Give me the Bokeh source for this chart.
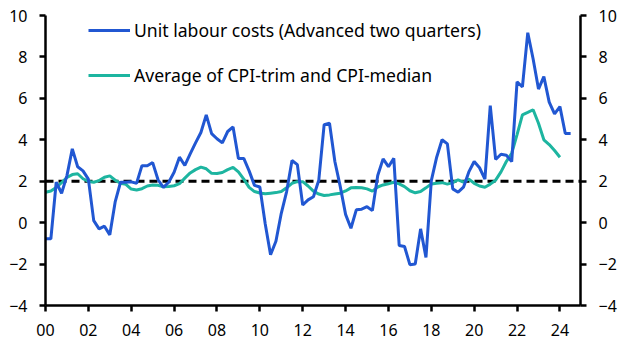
import numpy as np
from bokeh.plotting import figure
from bokeh.models import (LinearAxis, FixedTicker, Span, Legend, LegendItem,
                          ColumnDataSource, Range1d)
from bokeh.embed import file_html
from bokeh.resources import INLINE

# Unit labour costs, y/y %, advanced two quarters (quarterly from 2000 Q1)
ulc = [-0.78, -0.78, 1.95, 1.42,
       2.27, 3.56, 2.70, 2.50,
       2.10, 0.10, -0.30, -0.17,
       -0.59, 1.00, 1.95, 1.95,
       1.97, 1.90, 2.75, 2.75,
       2.90, 2.07, 1.70, 1.95,
       2.43, 3.16, 2.76, 3.32,
       3.85, 4.35, 5.20, 4.30,
       4.05, 3.85, 4.40, 4.62,
       3.10, 3.10, 2.50, 1.80,
       1.72, -0.05, -1.55, -0.90,
       0.45, 1.50, 3.00, 2.80,
       0.85, 1.10, 1.25, 2.05,
       4.73, 4.80, 2.95, 1.75,
       0.40, -0.27, 0.62, 0.65,
       0.77, 0.58, 2.28, 3.08,
       2.70, 3.10, -1.10, -1.15,
       -2.03, -2.00, -0.30, -1.68,
       2.03, 3.16, 4.00, 3.80,
       1.63, 1.47, 1.71, 2.45,
       2.95, 2.65, 2.10, 5.65,
       3.05, 3.30, 3.25, 2.95,
       6.80, 6.55, 9.17, 7.90,
       6.45, 7.05, 5.82, 5.25,
       5.60, 4.30, 4.30]

# Average of CPI-trim and CPI-median, y/y % (quarterly from 2000 Q1)
cpi = [1.47, 1.53, 1.70, 1.93,
       2.18, 2.32, 2.36, 2.12,
       1.99, 1.95, 2.03, 2.19,
       2.26, 2.05, 1.90, 1.85,
       1.62, 1.58, 1.64, 1.77,
       1.82, 1.80, 1.73, 1.75,
       1.78, 1.88, 2.15, 2.40,
       2.56, 2.68, 2.60, 2.38,
       2.37, 2.42, 2.56, 2.67,
       2.45, 2.10, 1.70, 1.50,
       1.43, 1.39, 1.42, 1.45,
       1.50, 1.68, 1.90, 1.98,
       1.98, 1.77, 1.52, 1.38,
       1.31, 1.34, 1.38, 1.42,
       1.53, 1.68, 1.70, 1.68,
       1.63, 1.52, 1.72, 1.82,
       1.88, 1.95, 1.87, 1.74,
       1.54, 1.44, 1.50, 1.68,
       1.87, 1.90, 1.93, 1.86,
       1.93, 2.07, 1.96, 2.10,
       1.90, 1.77, 1.71, 1.86,
       2.05, 2.45, 2.95, 3.35,
       4.25, 5.20, 5.32, 5.45,
       4.80, 4.00, 3.77, 3.48,
       3.16]

x_ticks = [2000, 2002, 2004, 2006, 2008, 2010, 2012, 2014, 2016, 2018, 2020, 2022, 2024]
x_labels = ["00", "02", "04", "06", "08", "10", "12", "14", "16", "18", "20", "22", "24"]
y_ticks = [-4, -2, 0, 2, 4, 6, 8, 10]
target = 2

ulc_src = ColumnDataSource(dict(x=2000 + 0.25 * np.arange(len(ulc)), y=ulc))
cpi_src = ColumnDataSource(dict(x=2000 + 0.25 * np.arange(len(cpi)), y=cpi))

FONT = "Noto Sans"
BLUE = "#2157d2"
TEAL = "#1db5a0"

p = figure(width=629, height=354, output_backend="svg", toolbar_location=None,
           x_range=Range1d(2000, 2024.96), y_range=Range1d(-4, 10),
           min_border_left=45, min_border_right=49, min_border_top=15,
           min_border_bottom=49)
p.outline_line_color = None
p.grid.visible = False
p.background_fill_color = "white"
p.border_fill_color = "white"

p.add_layout(Span(location=target, dimension="width", line_color="black",
                  line_width=3, line_dash="8 5", level="underlay"))

r_cpi = p.line("x", "y", source=cpi_src, line_color=TEAL, line_width=3)
r_ulc = p.line("x", "y", source=ulc_src, line_color=BLUE, line_width=3)

p.add_layout(LinearAxis(), "right")

for ax in p.axis:
    ax.axis_line_width = 2.5
    ax.axis_line_color = "black"
    ax.major_tick_line_width = 2.5
    ax.major_tick_line_color = "black"
    ax.major_tick_out = 6
    ax.major_tick_in = 0
    ax.minor_tick_out = 0
    ax.minor_tick_in = 0
    ax.major_label_text_font = FONT
    ax.major_label_text_font_size = "16px"
    ax.major_label_text_color = "black"
    ax.major_label_standoff = 12

p.xaxis.ticker = FixedTicker(ticks=x_ticks)
p.xaxis.major_label_overrides = {t: l for t, l in zip(x_ticks, x_labels)}
for ax in p.yaxis:
    ax.ticker = FixedTicker(ticks=y_ticks)

legend = Legend(items=[
    LegendItem(label="Unit labour costs (Advanced two quarters)", renderers=[r_ulc]),
    LegendItem(label="Average of CPI-trim and CPI-median", renderers=[r_cpi]),
], location=(43, 218))
legend.padding = 0
legend.margin = 0
legend.spacing = 21
legend.glyph_width = 42
legend.glyph_height = 24
legend.label_height = 24
legend.label_standoff = 4
legend.border_line_color = None
legend.background_fill_alpha = 0
legend.label_text_font = FONT
legend.label_text_font_size = "17.6px"
legend.label_text_color = "black"
p.add_layout(legend)

open("out.html", "w").write(file_html(p, INLINE))
